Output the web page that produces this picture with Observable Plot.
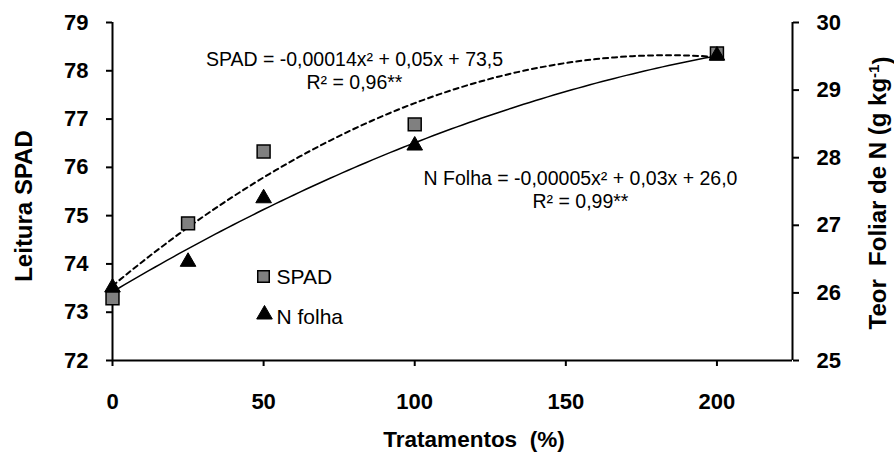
<!DOCTYPE html>
<html><head><meta charset="utf-8">
<script src="https://cdn.jsdelivr.net/npm/d3@7"></script>
<script src="https://cdn.jsdelivr.net/npm/@observablehq/plot@0.6"></script>
<style>body{margin:0;background:#fff}#chart svg{display:block}</style>
</head><body><div id="chart"></div>
<script>
// ---- data ----
const tratamentos = [0, 25, 50, 100, 200];
const spad = [73.29, 74.84, 76.33, 76.89, 78.36];
const nFolha = [26.08, 26.46, 27.40, 28.18, 29.51];
const xTicks = [0, 50, 100, 150, 200];
const spadTicks = [72, 73, 74, 75, 76, 77, 78, 79];
const nTicks = [25, 26, 27, 28, 29, 30];
const eqSpad = ["SPAD = -0,00014x² + 0,05x + 73,5", "R² = 0,96**"];
const eqN = ["N Folha = -0,00005x² + 0,03x + 26,0", "R² = 0,99**"];
const legendLabels = ["SPAD", "N folha"];
const xTitle = "Tratamentos  (%)";
const yLeftTitle = "Leitura SPAD";
const yRightTitle = ["Teor  Foliar de N (g kg", "-1", ")"];

// map right-axis (N) values onto left (SPAD) scale: 25..30 -> 72..79
const nToSpad = n => 72 + (n - 25) * 7 / 5;
const spadToN = v => 25 + (v - 72) * 5 / 7;

// quadratic least squares fit
function quadFit(xs, ys) {
  const S = [0, 0, 0, 0, 0], T = [0, 0, 0];
  xs.forEach((x, i) => {
    for (let k = 0; k < 5; k++) S[k] += Math.pow(x, k);
    for (let k = 0; k < 3; k++) T[k] += ys[i] * Math.pow(x, k);
  });
  const A = [[S[0], S[1], S[2], T[0]], [S[1], S[2], S[3], T[1]], [S[2], S[3], S[4], T[2]]];
  for (let i = 0; i < 3; i++) {
    for (let j = i + 1; j < 3; j++) {
      const f = A[j][i] / A[i][i];
      for (let k = i; k < 4; k++) A[j][k] -= f * A[i][k];
    }
  }
  const c = [0, 0, 0];
  for (let i = 2; i >= 0; i--) {
    let s = A[i][3];
    for (let k = i + 1; k < 3; k++) s -= A[i][k] * c[k];
    c[i] = s / A[i][i];
  }
  return c;
}
const cS = quadFit(tratamentos, spad);
const cN = quadFit(tratamentos, nFolha);
const curveX = d3.range(0, 200.5, 2);
const spadCurve = curveX.map(x => ({x, y: cS[0] + cS[1] * x + cS[2] * x * x}));
const nCurve = curveX.map(x => ({x, y: nToSpad(cN[0] + cN[1] * x + cN[2] * x * x)}));

const spadPts = tratamentos.map((x, i) => ({x, y: spad[i]}));
const nPts = tratamentos.map((x, i) => ({x, y: nToSpad(nFolha[i])}));

const font = "'Liberation Sans', Arial, sans-serif";
const axisStyle = {tickSize: 6, strokeWidth: 2, stroke: "#000", fill: "#000", label: null, fontSize: 22, fontWeight: "bold"};

const plot = Plot.plot({
  width: 894,
  height: 453,
  marginLeft: 112,
  marginRight: 102,
  marginTop: 22,
  marginBottom: 93,
  style: {fontFamily: font, fontSize: "22px", fontWeight: "bold", background: "#fff", color: "#000"},
  x: {domain: [0, 225]},
  y: {domain: [72, 79]},
  marks: [
    Plot.axisX({...axisStyle, ticks: xTicks, tickPadding: 27, tickFormat: d => String(d)}),
    Plot.axisY({...axisStyle, anchor: "left", ticks: spadTicks, tickPadding: 18, tickFormat: d => String(d)}),
    Plot.axisY({...axisStyle, anchor: "right", ticks: nTicks.map(nToSpad), tickPadding: 18, tickFormat: d => String(Math.round(spadToN(d)))}),
    Plot.ruleX([0, 225], {stroke: "#000", strokeWidth: 2}),
    Plot.ruleY([72], {stroke: "#000", strokeWidth: 2}),
    Plot.line(spadCurve, {x: "x", y: "y", stroke: "#000", strokeWidth: 2, strokeDasharray: "5,4"}),
    Plot.line(nCurve, {x: "x", y: "y", stroke: "#000", strokeWidth: 1.5}),
    Plot.dot(spadPts, {x: "x", y: "y", symbol: "square", r: 7.3, fill: "#808080", stroke: "#000", strokeWidth: 1.5}),
    Plot.dot(nPts, {x: "x", y: "y", symbol: "triangle", r: 5.8, fill: "#000", stroke: "#000", strokeWidth: 1}),
    Plot.text([eqSpad.join("\n")], {frameAnchor: "top-left", dx: 242, dy: 27.5, textAnchor: "middle", lineAnchor: "top", lineHeight: 1.16, fontSize: 19.5, fontWeight: "normal", fill: "#000"}),
    Plot.text([eqN.join("\n")], {frameAnchor: "top-left", dx: 468, dy: 146.5, textAnchor: "middle", lineAnchor: "top", lineHeight: 1.16, fontSize: 19.5, fontWeight: "normal", fill: "#000"}),
    Plot.dot([legendLabels[0]], {frameAnchor: "top-left", dx: 151, dy: 254, symbol: "square", r: 6.5, fill: "#808080", stroke: "#000", strokeWidth: 1.5}),
    Plot.text([legendLabels[0]], {frameAnchor: "top-left", dx: 164, dy: 254.6, textAnchor: "start", lineAnchor: "middle", fontSize: 21, fontWeight: "normal", fill: "#000"}),
    Plot.dot([legendLabels[1]], {frameAnchor: "top-left", dx: 152, dy: 292, symbol: "triangle", r: 5.8, fill: "#000", stroke: "#000", strokeWidth: 1}),
    Plot.text([legendLabels[1]], {frameAnchor: "top-left", dx: 164, dy: 294.6, textAnchor: "start", lineAnchor: "middle", fontSize: 21, fontWeight: "normal", fill: "#000"})
  ]
});

const svg = d3.select(plot);
svg.append("text")
  .attr("x", 474).attr("y", 447)
  .attr("text-anchor", "middle")
  .style("font-family", font).style("font-size", "22.5px").style("font-weight", "bold").style("white-space", "pre")
  .attr("fill", "#000")
  .text(xTitle);
svg.append("text")
  .attr("transform", "translate(31.5,206) rotate(-90)")
  .attr("text-anchor", "middle")
  .style("font-family", font).style("font-size", "24px").style("font-weight", "bold").style("white-space", "pre")
  .attr("fill", "#000")
  .text(yLeftTitle);
const rt = svg.append("text")
  .attr("transform", "translate(886,193) rotate(-90)")
  .attr("text-anchor", "middle")
  .style("font-family", font).style("font-size", "24px").style("font-weight", "bold").style("white-space", "pre")
  .attr("fill", "#000");
rt.append("tspan").text(yRightTitle[0]);
rt.append("tspan").attr("dy", "-0.45em").style("font-size", "15px").text(yRightTitle[1]);
rt.append("tspan").attr("dy", "0.45em").text(yRightTitle[2]);

document.getElementById("chart").appendChild(plot);
</script>
</body></html>
